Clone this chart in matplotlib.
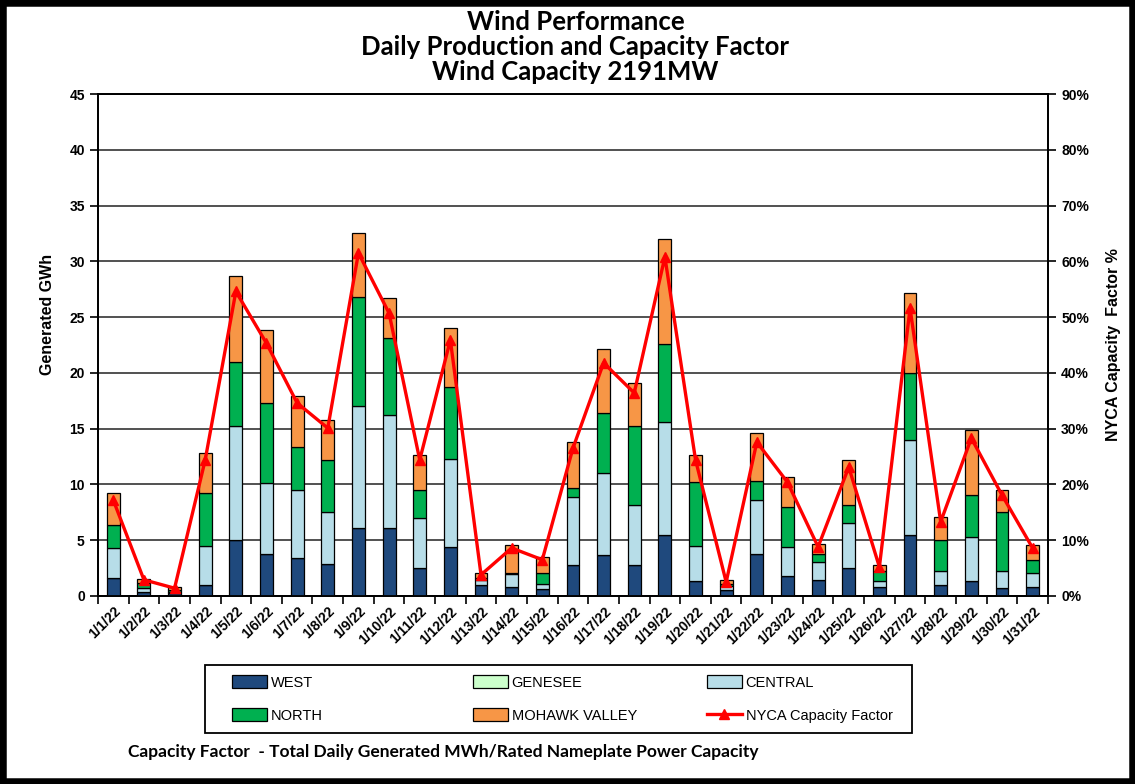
import numpy as np
import matplotlib
matplotlib.use("Agg")
import matplotlib.pyplot as plt
from matplotlib.patches import Rectangle

dates = ["1/%d/22" % d for d in range(1, 32)]

# daily production by zone, GWh
west = [1.6, 0.4, 0.3, 1.0, 5.0, 3.8, 3.4, 2.9, 6.1, 6.1, 2.5, 4.4, 1.0, 0.85, 0.6, 2.8,
        3.7, 2.8, 5.5, 1.3, 0.5, 3.8, 1.75, 1.45, 2.5, 0.8, 5.5, 1.0, 1.3, 0.7, 0.85]
genesee = [0.0] * 31
central = [2.7, 0.3, 0.1, 3.5, 10.2, 6.3, 6.1, 4.6, 10.9, 10.1, 4.5, 7.9, 0.45, 1.15, 0.45, 6.05,
           7.3, 5.35, 10.1, 3.2, 0.4, 4.8, 2.65, 1.6, 4.0, 0.5, 8.5, 1.2, 4.0, 1.5, 1.2]
north = [2.1, 0.45, 0.1, 4.7, 5.8, 7.2, 3.9, 4.7, 9.8, 6.9, 2.5, 6.45, 0.15, 0.05, 1.0, 0.8,
         5.4, 7.05, 7.0, 5.7, 0.2, 1.7, 3.6, 0.7, 1.65, 0.9, 6.0, 2.8, 3.75, 5.35, 1.15]
mohawk = [2.8, 0.35, 0.3, 3.6, 7.7, 6.5, 4.5, 3.6, 5.7, 3.6, 3.1, 5.25, 0.45, 2.55, 1.45, 4.15,
          5.7, 3.9, 9.4, 2.4, 0.35, 4.3, 2.7, 0.95, 4.05, 0.6, 7.2, 2.1, 5.85, 1.95, 1.4]

# NYCA capacity factor, %
cap_factor = [17.2, 2.9, 1.4, 24.4, 54.6, 45.3, 34.6, 30.1, 61.5, 50.7, 24.4, 45.9, 3.8, 8.6, 6.5, 26.5,
              41.8, 36.4, 60.8, 24.4, 2.5, 27.6, 20.4, 8.8, 23.1, 5.2, 51.6, 13.3, 28.3, 18.1, 8.6]

zones = [("WEST", west, "#1F497D"),
         ("GENESEE", genesee, "#CCFFCC"),
         ("CENTRAL", central, "#B7DDE8"),
         ("NORTH", north, "#00B050"),
         ("MOHAWK VALLEY", mohawk, "#F79646")]

tick_font = {"family": "Liberation Sans", "weight": "bold", "size": 10}
label_font = {"family": "Liberation Sans", "weight": "bold", "size": 11.5}

fig = plt.figure(figsize=(11.35, 7.84), dpi=100)
ax = fig.add_axes([0.0863, 0.2398, 0.837, 0.6403])

x = np.arange(len(dates))
bottom = np.zeros(len(dates))
handles = {}
for name, vals, col in zones:
    vals = np.array(vals)
    handles[name] = ax.bar(x, vals, 0.42, bottom=bottom, color=col, edgecolor="black",
                           linewidth=0.9, zorder=3, label=name)
    bottom += vals

ax.set_ylim(0, 45)
ax.set_xlim(-0.5, len(dates) - 0.5)
ax.set_yticks(np.arange(0, 46, 5))
ax.yaxis.grid(True, color="#222222", linewidth=1.1, zorder=0)
ax.set_axisbelow(True)
ax.set_xticks(np.arange(-0.5, len(dates), 1.0))
ax.set_xticklabels([])
ax.set_xticks(x, minor=True)
ax.set_xticklabels(dates, minor=True, rotation=45, ha="right", rotation_mode="anchor",
                   fontdict=tick_font)
ax.tick_params(axis="x", which="major", direction="out", length=6, width=1.2)
ax.tick_params(axis="x", which="minor", length=0, pad=6)
ax.tick_params(axis="y", direction="out", length=6, width=1.2)
for lab in ax.get_yticklabels():
    lab.set_fontproperties(matplotlib.font_manager.FontProperties(**tick_font))
for s in ax.spines.values():
    s.set_linewidth(1.3)
ax.set_ylabel("Generated GWh", fontdict=label_font, labelpad=10, y=0.56)

ax2 = ax.twinx()
line, = ax2.plot(x, cap_factor, color="#FF0000", linewidth=2.4, marker="^", markersize=6.5,
                 zorder=5, label="NYCA Capacity Factor")
ax2.set_ylim(0, 90)
ax2.set_yticks(np.arange(0, 91, 10))
ax2.set_yticklabels(["%d%%" % v for v in range(0, 91, 10)], fontdict=tick_font)
ax2.tick_params(axis="y", direction="out", length=6, width=1.2)
ax2.set_ylabel("NYCA Capacity  Factor %", fontdict=label_font, labelpad=12)
for s in ax2.spines.values():
    s.set_linewidth(1.3)

title_lines = ["Wind Performance", "Daily Production and Capacity Factor", "Wind Capacity 2191MW"]
for i, t in enumerate(title_lines):
    fig.text(0.507, 0.972 - i * 0.032, t, ha="center", va="center", family="Lato",
             weight="bold", size=18.5)

# legend: boxed, three columns placed like the original
fig.patches.append(Rectangle((0.1806, 0.065), 0.6229, 0.0868, transform=fig.transFigure,
                             fill=False, edgecolor="black", linewidth=1.3))
columns = [["WEST", "NORTH"], ["GENESEE", "MOHAWK VALLEY"], ["CENTRAL", None]]
col_x = [0.2044, 0.4167, 0.6229]
for names, cx in zip(columns, col_x):
    hs = [handles[n] if n else line for n in names]
    ls = [n if n else "NYCA Capacity Factor" for n in names]
    fig.legend(hs, ls, loc="center left", bbox_to_anchor=(cx, 0.1084), frameon=False,
               prop={"family": "Liberation Sans", "size": 10.5}, handlelength=2.4,
               handleheight=0.9, handletextpad=0.25, labelspacing=1.3,
               borderpad=0, borderaxespad=0)

fig.text(0.113, 0.041, "Capacity Factor  - Total Daily Generated MWh/Rated Nameplate Power Capacity",
         ha="left", va="center", family="Lato", weight="bold", size=12.5)

fig.patches.append(Rectangle((0, 0), 1, 1, transform=fig.transFigure, fill=False,
                             edgecolor="black", linewidth=9))

fig.savefig("out.png", dpi=100)
